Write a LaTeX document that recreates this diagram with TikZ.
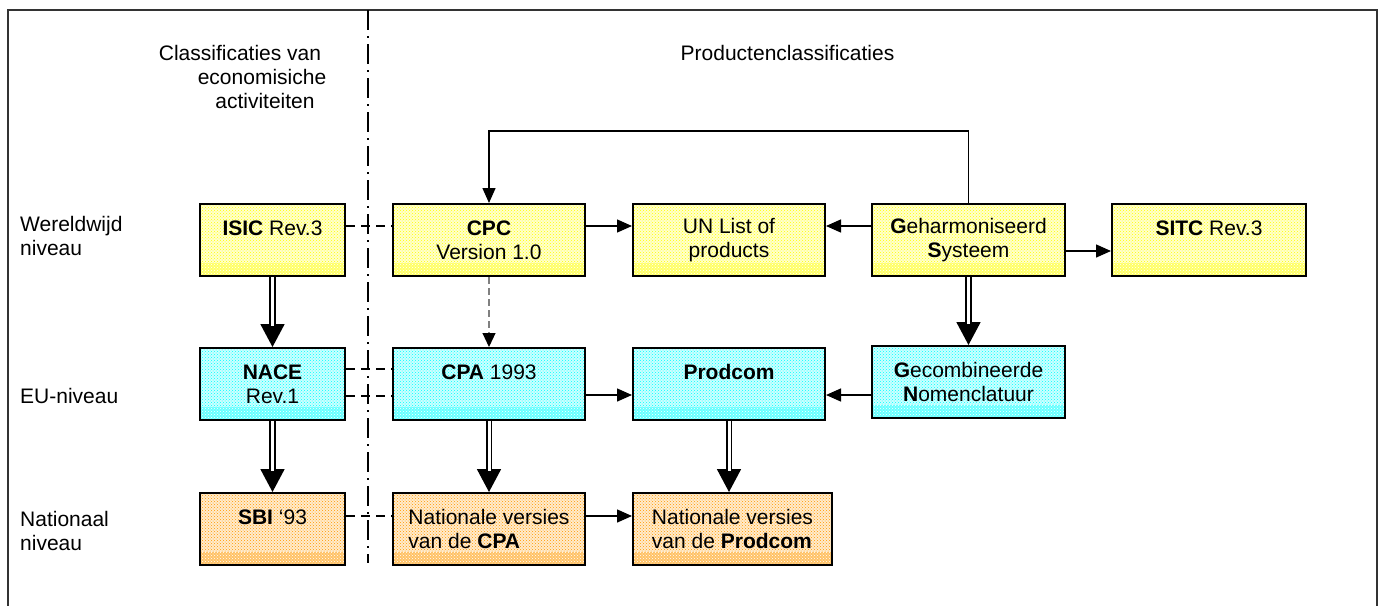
\documentclass[tikz,border=0pt]{standalone}
\usepackage{fontspec}
\setmainfont{Liberation Sans}
\usetikzlibrary{arrows.meta,patterns}
\definecolor{orng}{HTML}{FF9900}
\definecolor{cyn}{HTML}{00FFFF}
\definecolor{yel}{HTML}{FFFF00}
\definecolor{frame}{HTML}{333333}
\tikzset{
  txt/.style={font=\fontsize{21}{24}\selectfont, inner sep=0pt},
  box/.style={draw, line width=2pt, minimum height=72pt, inner sep=0pt, align=center,
    font=\fontsize{21}{24}\selectfont},
  boxc/.style 2 args={box, minimum width=#2,
    preaction={fill=#1!20},
    pattern=crosshatch dots, pattern color=#1,
    path picture={\fill[#1!60] (path picture bounding box.south west) rectangle ([yshift=13pt]path picture bounding box.south east);
      \fill[pattern=crosshatch dots, pattern color=white] (path picture bounding box.south west) rectangle ([yshift=13pt]path picture bounding box.south east);}},
  arr/.style={line width=1.4pt, -{Triangle[width=13pt,length=15pt]}},
  dashc/.style={line width=1.4pt, dash pattern=on 9pt off 6pt},
  graydash/.style={line width=1.1pt, draw=gray, dash pattern=on 7pt off 4pt,
    -{Triangle[width=13pt,length=14pt,color=black]}},
  dblhead/.style={line width=1.8pt, -{Triangle[width=24pt,length=23pt]}},
  dblline/.style={line width=1.9pt, double, double distance=3pt, shorten >=21pt},
  dashdot/.style={line width=1.4pt, dash pattern=on 20pt off 6pt on 2pt off 6pt},
}
\begin{document}
\begin{tikzpicture}[x=1pt,y=-1pt]
\useasboundingbox (0,0) rectangle (1380,605);
\draw[frame, line width=2pt] (8,640) -- (8,10) -- (1377,10) -- (1377,640);

% divider
\coordinate (vt) at (368,10);
\coordinate (vb) at (368,563);
\draw[dashdot] (vt) -- (vb);

% headers
\node[txt] (h1) at (240,53) {Classificaties van};
\node[txt] (h2) at (262,77) {economisiche};
\node[txt] (h3) at (265,101) {activiteiten};
\node[txt] (h4) at (787.5,53) {Productenclassificaties};

% row labels
\node[txt, anchor=west, align=left] (r1) at (20,236) {Wereldwijd\\niveau};
\node[txt, anchor=west] (r2) at (20,396) {EU-niveau};
\node[txt, anchor=west, align=left] (r3) at (20,531) {Nationaal\\niveau};

% world level
\node[boxc={yel}{145pt}] (isic) at (272.5,240) {\textbf{ISIC} Rev.3\\\mbox{}};
\node[boxc={yel}{192pt}] (cpc) at (489,240) {\textbf{CPC}\\Version 1.0};
\node[boxc={yel}{192pt}] (unl) at (729,240) {UN List of\\products};
\node[boxc={yel}{193pt}] (gs) at (968.5,240) {\textbf{G}eharmoniseerd\\\textbf{S}ysteem};
\node[boxc={yel}{194pt}] (sitc) at (1209,240) {\textbf{SITC} Rev.3\\\mbox{}};

% EU level
\node[boxc={cyn}{145pt}] (nace) at (272.5,384) {\textbf{NACE}\\Rev.1};
\node[boxc={cyn}{192pt}] (cpa) at (489,384) {\textbf{CPA} 1993\\\mbox{}};
\node[boxc={cyn}{192pt}] (prod) at (729,384) {\textbf{Prodcom}\\\mbox{}};
\node[boxc={cyn}{193pt}] (gn) at (968.5,382) {\textbf{G}ecombineerde\\\textbf{N}omenclatuur};

% national level
\node[boxc={orng}{145pt}] (sbi) at (272.5,529) {\textbf{SBI} ‘93\\\mbox{}};
\node[boxc={orng}{192pt}, align=left] (ncpa) at (489,529) {Nationale versies\\van de \textbf{CPA}};
\node[boxc={orng}{199pt}, align=left] (nprod) at (732.5,529) {Nationale versies\\van de \textbf{Prodcom}};

% dashed links
\draw[dashc] ([yshift=-23pt]isic.north east) -- ([yshift=-23pt]cpc.north west);
\draw[dashc] ([yshift=-22pt]nace.north east) -- ([yshift=-22pt]cpa.north west);
\draw[dashc] ([yshift=-49pt]nace.north east) -- ([yshift=-49pt]cpa.north west);
\draw[dashc] ([yshift=-24pt]sbi.north east) -- ([yshift=-24pt]ncpa.north west);

% single arrows
\draw[arr] ([yshift=-23pt]cpc.north east) -- ([yshift=-23pt]unl.north west);
\draw[arr] ([yshift=-23pt]gs.north west) -- ([yshift=-23pt]unl.north east);
\draw[arr] ([yshift=-48pt]gs.north east) -- ([yshift=-48pt]sitc.north west);
\draw[arr] ([yshift=-48pt]cpa.north east) -- ([yshift=-48pt]prod.north west);
\draw[arr] ([yshift=-50pt]gn.north west) -- ([yshift=-48pt]prod.north east);
\draw[arr] ([yshift=-24pt]ncpa.north east) -- ([yshift=-24pt]nprod.north west);

% top loop GS -> CPC
\coordinate (top) at (700,131);
\draw[arr] (gs.north) -- (gs.north |- top) -| (cpc.north);

% gray dashed CPC -> CPA
\draw[graydash] (cpc.south) -- (cpa.north);

% double arrows
\draw[dblhead] (isic.south) -- (nace.north);
\draw[dblline] (isic.south) -- (nace.north);
\draw[dblhead] (nace.south) -- (sbi.north);
\draw[dblline] (nace.south) -- (sbi.north);
\draw[dblhead] (cpa.south) -- (ncpa.north);
\draw[dblline] (cpa.south) -- (ncpa.north);
\draw[dblhead] (prod.south) -- (prod.south |- nprod.north);
\draw[dblline] (prod.south) -- (prod.south |- nprod.north);
\draw[dblhead] (gs.south) -- (gn.north);
\draw[dblline] (gs.south) -- (gn.north);
\end{tikzpicture}
\end{document}
